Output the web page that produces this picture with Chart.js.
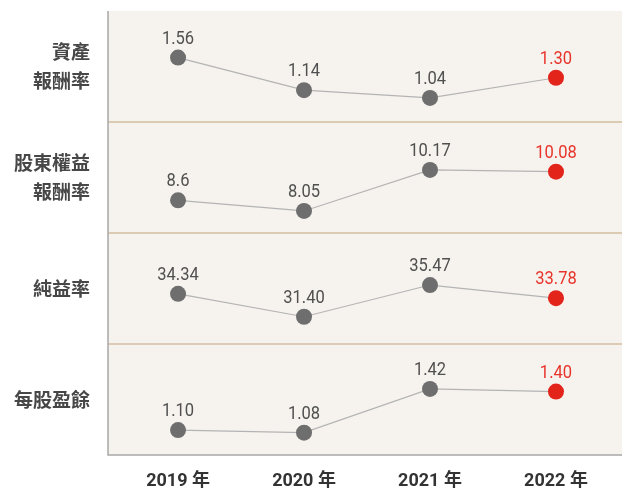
<!DOCTYPE html>
<html>
<head>
<meta charset="utf-8">
<script src="https://cdn.jsdelivr.net/npm/chart.js@4.4.1/dist/chart.umd.min.js"></script>
<style>
  html, body { margin: 0; padding: 0; background: #fff; }
  canvas { display: block; }
</style>
</head>
<body>
<canvas id="kpi" width="622" height="493"></canvas>
<script>
// years along the bottom
var years = ['2019 年', '2020 年', '2021 年', '2022 年'];

// one row per indicator, figures as printed in the report
var roaValues = ['1.56', '1.14', '1.04', '1.30'];
var roeValues = ['8.6', '8.05', '10.17', '10.08'];
var marginValues = ['34.34', '31.40', '35.47', '33.78'];
var epsValues = ['1.10', '1.08', '1.42', '1.40'];

var roaLabel = ['資產', '報酬率'];
var roeLabel = ['股東權益', '報酬率'];
var marginLabel = ['純益率'];
var epsLabel = ['每股盈餘'];

var rows = [
  { label: roaLabel, values: roaValues, min: 0.73, max: 2.16 },
  { label: roeLabel, values: roeValues, min: 6.91, max: 12.65 },
  { label: marginLabel, values: marginValues, min: 27.9, max: 42.15 },
  { label: epsLabel, values: epsValues, min: 0.906, max: 1.77 }
];

var GREY = '#6e6e6e';
var RED = '#e3241b';
var lastIdx = years.length - 1;

function pointColors(values) {
  return values.map(function(v, i) { return i === lastIdx ? RED : GREY; });
}

var datasets = rows.map(function(row, r) {
  return {
    label: row.label.join(''),
    data: row.values.map(function(v, i) { return { x: i, y: v }; }),
    yAxisID: 'y' + r,
    borderColor: '#b4b4b4',
    borderWidth: 1.2,
    tension: 0,
    pointRadius: 8,
    pointHoverRadius: 8,
    pointBorderWidth: 0,
    pointBackgroundColor: pointColors(row.values)
  };
});

var scales = {
  x: {
    type: 'linear',
    min: -0.556,
    max: 3.524,
    afterBuildTicks: function(axis) {
      axis.ticks = years.map(function(y, i) { return { value: i }; });
    },
    afterFit: function(axis) { axis.height = 38; },
    grid: { display: false, drawTicks: false },
    border: { display: false },
    ticks: {
      padding: 16,
      color: '#333',
      font: { family: 'Roboto, "Noto Sans CJK TC"', size: 18, weight: 'bold' },
      callback: function(value) { return years[value]; }
    }
  }
};

// stacked axes are laid out bottom-up, so add the last row first
rows.slice().reverse().forEach(function(row, k) {
  var r = rows.length - 1 - k;
  scales['y' + r] = {
    type: 'linear',
    position: 'left',
    stack: 'rows',
    stackWeight: 1,
    min: row.min,
    max: row.max,
    afterFit: function(axis) { axis.width = 108; },
    grid: { display: false, drawTicks: false },
    border: { display: false },
    ticks: { display: false }
  };
});

var panelPlugin = {
  id: 'panels',
  beforeDraw: function(chart) {
    var ctx = chart.ctx;
    var a = chart.chartArea;
    ctx.save();
    ctx.fillStyle = '#f6f3ee';
    ctx.fillRect(a.left, a.top, a.right - a.left, a.bottom - a.top);

    // separators between the rows
    ctx.strokeStyle = '#dacbb2';
    ctx.lineWidth = 2;
    rows.forEach(function(row, r) {
      var s = chart.scales['y' + r];
      if (s.bottom < a.bottom - 2) {
        ctx.beginPath();
        ctx.moveTo(a.left, s.bottom);
        ctx.lineTo(a.right, s.bottom);
        ctx.stroke();
      }
    });

    // left and bottom frame
    ctx.strokeStyle = '#a8a8a8';
    ctx.lineWidth = 1.5;
    ctx.beginPath();
    ctx.moveTo(a.left, a.top);
    ctx.lineTo(a.left, a.bottom);
    ctx.lineTo(a.right, a.bottom);
    ctx.stroke();

    // row names
    ctx.fillStyle = '#474747';
    ctx.font = 'bold 19px "Noto Sans CJK TC"';
    ctx.textAlign = 'right';
    ctx.textBaseline = 'middle';
    rows.forEach(function(row, r) {
      var s = chart.scales['y' + r];
      var mid = (s.top + s.bottom) / 2;
      var gap = 29;
      var y0 = mid - (row.label.length - 1) * gap / 2;
      row.label.forEach(function(line, k) {
        ctx.fillText(line, a.left - 18, y0 + k * gap);
      });
    });
    ctx.restore();
  },
  afterDatasetsDraw: function(chart) {
    var ctx = chart.ctx;
    ctx.save();
    ctx.font = '19px Roboto';
    ctx.textAlign = 'center';
    ctx.textBaseline = 'alphabetic';
    rows.forEach(function(row, r) {
      var meta = chart.getDatasetMeta(r);
      meta.data.forEach(function(pt, i) {
        ctx.save();
        ctx.translate(pt.x, pt.y - 14);
        ctx.scale(0.87, 1);   // the report uses a condensed face
        ctx.fillStyle = i === lastIdx ? '#e8352c' : '#505050';
        ctx.fillText(row.values[i], 0, 0);
        ctx.restore();
      });
    });
    ctx.restore();
  }
};

new Chart(document.getElementById('kpi'), {
  type: 'line',
  data: { datasets: datasets },
  options: {
    responsive: false,
    animation: false,
    layout: { autoPadding: false, padding: { top: 11, right: 0, bottom: 0, left: 0 } },
    plugins: {
      legend: { display: false },
      tooltip: { enabled: false }
    },
    scales: scales
  },
  plugins: [panelPlugin]
});
</script>
</body>
</html>
